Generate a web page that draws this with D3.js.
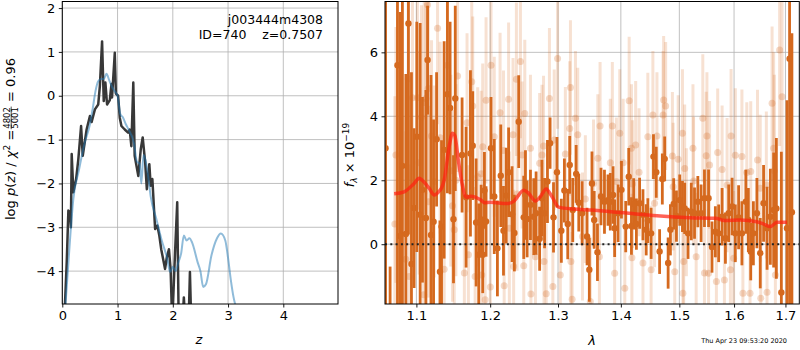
<!DOCTYPE html>
<html><head><meta charset="utf-8">
<script src="https://cdn.jsdelivr.net/npm/d3@7"></script>
<style>
body{margin:0;background:#fff}
svg{font-family:"DejaVu Sans",sans-serif}
</style></head><body>
<svg id="c" width="800" height="350"></svg>
<script>
// ---------- data ----------
const zTicks=[0,1,2,3,4];
const lnpTicks=[-4,-3,-2,-1,0,1,2];
const zBlue=[0.05,0.1,0.15,0.2,0.3,0.4,0.5,0.55,0.6,0.65,0.7,0.75,0.8,0.85,0.9,0.95,1.0,1.05,1.1,1.15,1.2,1.3,1.35,1.4,1.43,1.47,1.55,1.6,1.7,1.8,1.9,1.95,2.0,2.05,2.1,2.15,2.2,2.25,2.3,2.35,2.45,2.5,2.55,2.6,2.7,2.8,2.87,2.95,3.0,3.05,3.1,3.15];
const lnpBlue=[-4.9,-4.0,-3.1,-2.35,-1.7,-1.1,-0.65,-0.3,0.1,0.33,0.38,0.38,0.5,0.35,0.2,0.1,0.0,-0.42,-0.5,-0.65,-0.77,-1.1,-1.5,-1.55,-2.0,-1.35,-1.8,-2.3,-2.8,-3.3,-3.72,-4.02,-3.9,-4.0,-3.8,-3.6,-3.19,-3.3,-3.25,-3.35,-3.8,-4.0,-4.36,-4.3,-3.64,-3.25,-3.14,-3.3,-3.7,-4.2,-4.6,-4.85];
const zBlack=[0.03,0.05,0.08,0.11,0.14,0.155,0.17,0.2,0.25,0.29,0.34,0.37,0.44,0.5,0.53,0.59,0.65,0.68,0.72,0.75,0.78,0.81,0.86,0.89,0.9,0.95,0.97,1.01,1.04,1.07,1.13,1.19,1.22,1.25,1.285,1.31,1.376,1.42,1.455,1.5,1.53,1.575,1.6,1.63,1.68,1.72,1.756,1.79,1.86,1.89,1.93,1.96,1.99,2.03,2.08,2.11,2.16,2.2,2.24,2.28,2.31,2.34];
const lnpBlack=[-5.5,-4.7,-3.8,-2.62,-2.65,-3.0,-1.33,-2.2,-1.9,-1.45,-0.69,-1.37,-0.77,-0.46,-0.6,-0.31,-0.2,0.22,1.24,-0.12,0.3,-0.2,-0.1,0.27,-0.04,0.98,0.05,0.0,-0.5,-0.69,-0.77,-0.84,-0.77,-1.15,0.3,-1.37,-1.83,-1.22,-0.95,-1.52,-2.13,-1.56,-2.05,-1.9,-3.04,-2.96,-3.19,-3.5,-3.95,-3.7,-3.5,-3.95,-5.2,-3.9,-2.43,-5.5,-5.5,-4.6,-5.5,-5.5,-4.02,-5.5];

const lamTicks=[1.1,1.2,1.3,1.4,1.5,1.6,1.7];
const fluxTicks=[0,2,4,6];

const darkLam=[1.0607,1.0664,1.0757,1.0791,1.0820,1.0864,1.0897,1.0936,1.0970,1.1005,1.1049,1.1079,1.1124,1.1146,1.1191,1.1225,1.1265,1.1310,1.1331,1.1366,1.1410,1.1446,1.1492,1.1516,1.1609,1.1664,1.1724,1.1756,1.1803,1.1839,1.1873,1.1895,1.1919,1.1942,1.2012,1.2058,1.2103,1.2151,1.2190,1.2230,1.2264,1.2314,1.2348,1.2411,1.2485,1.2510,1.2535,1.2584,1.2633,1.2668,1.2721,1.2756,1.2795,1.2839,1.2879,1.2931,1.2984,1.3051,1.3098,1.3150,1.3181,1.3228,1.3281,1.3322,1.3375,1.3453,1.3489,1.3531,1.3567,1.3619,1.3676,1.3732,1.3789,1.3827,1.3872,1.3898,1.3955,1.4010,1.4081,1.4131,1.4176,1.4214,1.4259,1.4313,1.4370,1.4425,1.4453,1.4509,1.4549,1.4597,1.4655,1.4702,1.4743,1.4803,1.4843,1.4901,1.4949,1.5007,1.5055,1.5095,1.5155,1.5213,1.5271,1.5331,1.5390,1.5451,1.5526,1.5589,1.5651,1.5712,1.5776,1.5838,1.5899,1.5963,1.6024,1.6086,1.6149,1.6224,1.6272,1.6318,1.6369,1.6437,1.6502,1.6567,1.6635,1.6700,1.6765,1.6819,1.6918,1.7031,1.7083,1.7130];
const darkFlux=[3.0,-3.6,5.6,0.26,2.45,0.32,6.9,-0.62,1.13,3.36,0.92,1.7,0.82,5.76,0.29,0.7,3.28,-0.86,0.55,2.95,4.69,4.26,0.78,4.56,2.79,1.47,2.84,3.08,0.68,-0.33,0.76,-0.33,1.68,0.71,3.0,1.49,-0.13,2.14,0.42,1.52,2.25,0.94,0.35,3.83,0.84,1.54,0.79,1.23,0.86,0.97,0.17,1.44,0.97,1.96,3.16,0.84,2.25,0.42,1.68,0.63,2.48,1.07,2.2,1.3,0.97,0.24,-0.8,1.9,0.76,-0.25,1.49,1.33,1.38,1.33,1.54,0.5,0.97,1.7,0.55,2.11,0.57,1.26,0.63,1.28,0.92,0.45,0.74,0.34,2.74,2.25,-0.23,2.04,2.67,-0.59,0.45,1.26,0.88,1.38,1.18,1.12,0.34,1.02,0.97,1.33,0.97,1.44,1.44,-0.09,0.39,0.34,0.86,0.19,0.97,1.18,0.34,0.84,0.34,1.33,0.76,-0.23,0.34,0.97,-0.28,1.28,0.5,0.86,1.07,1.12,-1.51,0.5,5.8,1.0];
const darkErr=[12,2.9,8,7,5.2,5,6.6,6,2.5,3.6,6,2.9,4,1.7,5,3.2,2.1,1.6,2.7,3.4,3.1,2.7,2.0,2.9,1.8,2.2,2.6,1.7,2.0,1.6,1.1,1.2,1.2,1.1,1.6,1.8,1.5,1.6,1.4,1.5,1.4,1.5,1.2,1.45,1.3,1.4,1.2,1.1,1.2,1.3,1.0,1.2,1.1,1.3,0.8,1.1,1.1,1.0,1.0,1.1,0.9,1.0,0.9,0.9,1.0,0.9,1.0,1.0,0.9,0.9,0.9,1.0,0.8,0.9,0.9,0.9,0.9,0.9,0.8,0.9,0.9,0.8,0.8,0.8,0.8,0.8,0.7,0.8,0.7,0.8,0.7,0.8,0.7,0.8,0.8,0.8,0.8,0.8,0.8,0.8,0.8,0.9,0.8,0.8,0.9,0.9,0.9,0.8,0.8,0.9,0.9,0.8,0.9,0.9,0.9,1.0,1.0,1.0,1.0,0.9,1.0,1.1,1.1,1.2,1.3,1.5,1.8,2.2,4.4,4.0,8,5.6];

const lightLam=[1.0724,1.0737,1.0864,1.0894,1.0906,1.0949,1.1013,1.1036,1.1066,1.1095,1.1102,1.1124,1.1146,1.1155,1.1159,1.1198,1.1234,1.1278,1.1313,1.1366,1.1410,1.1456,1.1478,1.1502,1.1525,1.1547,1.1640,1.1677,1.1696,1.1742,1.1756,1.1789,1.1825,1.1873,1.1881,1.1895,1.1929,1.1942,1.2002,1.2012,1.2058,1.2141,1.2190,1.2200,1.2264,1.2274,1.2328,1.2337,1.2377,1.2387,1.2436,1.2461,1.2485,1.2500,1.2584,1.2591,1.2658,1.2721,1.2756,1.2780,1.2787,1.2820,1.2869,1.2921,1.2942,1.2993,1.3035,1.3113,1.3181,1.3192,1.3199,1.3218,1.3270,1.3306,1.3380,1.3426,1.3505,1.3556,1.3625,1.3650,1.3661,1.3827,1.3860,1.3898,1.3927,1.3982,1.4038,1.4065,1.4138,1.4176,1.4184,1.4193,1.4247,1.4304,1.4370,1.4453,1.4509,1.4539,1.4567,1.4609,1.4715,1.4725,1.4760,1.4878,1.4891,1.4919,1.4979,1.5055,1.5063,1.5077,1.5095,1.5125,1.5243,1.5254,1.5301,1.5421,1.5451,1.5483,1.5496,1.5526,1.5544,1.5670,1.5694,1.5776,1.5819,1.5869,1.5931,1.5944,1.5992,1.6024,1.6149,1.6168,1.6242,1.6304,1.6318,1.6449,1.6502,1.6512,1.6621,1.6635,1.6734,1.6765,1.6779,1.6799,1.6884,1.6932];
const lightFlux=[0.63,2.79,-0.47,5.17,-1.01,4.58,4.58,2.55,3.97,-1.58,4.43,4.56,7.49,4.87,1.33,3.38,1.96,6.75,3.33,-0.78,5.6,2.3,1.2,0.45,2.0,5.26,-0.9,3.8,-0.33,5.08,4.32,-1.01,2.11,2.2,-0.96,3.05,-1.74,4.5,-1.34,5.6,3.36,4.11,2.93,-1.3,4.53,0.5,3.42,-0.7,5.16,1.57,5.71,2.79,-0.67,4.09,3.0,-1.56,-0.39,2.53,2.79,3.07,-0.54,-1.55,4.56,-1.32,3.26,5.81,-0.96,2.82,3.62,4.9,-0.54,-1.72,3.94,3.42,0.24,1.41,-1.79,1.9,2.69,-0.39,3.7,2.55,3.7,-0.91,1.96,3.47,2.55,-1.38,4.49,3.0,-0.42,1.88,3.1,2.25,-0.59,3.36,-0.8,4.04,1.28,3.38,4.04,4.51,4.32,2.76,1.8,-0.86,2.66,3.47,-1.53,-0.54,2.37,1.0,3.0,1.98,-0.39,3.94,-0.9,2.77,3.38,-0.91,2.48,-1.17,2.87,2.34,-1.12,1.85,-0.8,3.38,-0.44,2.78,2.74,-1.53,2.24,-1.53,2.27,2.63,1.75,-1.69,1.85,-1.5,4.41,3.0,2.3,-0.96,6.07,4.61];
const lightErr=[4,4,4,4,3.5,3.5,3.5,3.5,3.5,3.5,3.5,3,3,3,3,3,3,3,3,3,3,3,3,3,3,3,2.8,2.8,2.8,2.8,2.8,2.8,2.8,2.6,2.6,2.6,2.6,2.6,2.6,2.6,2.5,2.5,2.5,2.5,2.4,2.4,2.4,2.4,2.4,2.4,2.4,2.3,2.3,2.3,2.3,2.3,2.2,2.2,2.2,2.2,2.2,2.2,2.2,2.2,2.2,2.2,2.1,2.1,2.1,2.1,2.1,2.1,2.1,2.1,2.0,2.0,2.0,2.0,2.0,2.0,2.0,2.0,2.0,2.0,2.0,2.0,2.0,2.0,2.0,2.0,2.0,2.0,2.0,2.0,2.0,2.0,2.0,2.0,2.0,2.0,2.0,2.0,2.0,2.0,2.0,2.0,2.0,2.0,2.0,2.0,2.0,2.0,2.0,2.0,2.0,2.0,2.0,2.0,2.0,2.0,2.0,2.0,2.0,2.0,2.0,2.1,2.1,2.1,2.1,2.1,2.1,2.2,2.2,2.2,2.2,2.2,2.3,2.3,2.3,2.4,2.4,3,3,3,3,4,4];

const modelLam=[1.0715,1.0842,1.0970,1.1036,1.1075,1.1167,1.1234,1.1300,1.1331,1.1366,1.1433,1.1478,1.1510,1.1557,1.1617,1.1664,1.1733,1.1780,1.1863,1.1919,1.2002,1.2240,1.2337,1.2485,1.2559,1.2658,1.2732,1.2820,1.2906,1.3009,1.3244,1.3505,1.4054,1.4609,1.5195,1.5660,1.5815,1.6117,1.6437,1.6567,1.6700,1.6833,1.7031];
const modelFlux=[1.58,1.64,1.9,2.06,2.0,1.75,1.54,1.66,1.76,2.0,3.05,3.47,3.4,2.63,1.8,1.47,1.5,1.48,1.39,1.3,1.31,1.27,1.34,1.69,1.59,1.35,1.49,1.73,1.49,1.16,1.10,1.07,0.98,0.89,0.83,0.81,0.74,0.76,0.70,0.63,0.55,0.69,0.69];

// ---------- drawing ----------
const svg=d3.select("#c");
const FS=13;
const defs=svg.append("defs");
const L={x0:62.3,x1:338,y0:1.5,y1:304};
const R={x0:385,x1:799.3,y0:1.5,y1:304};
defs.append("clipPath").attr("id","clipL").append("rect").attr("x",L.x0).attr("y",L.y0).attr("width",L.x1-L.x0).attr("height",L.y1-L.y0);
defs.append("clipPath").attr("id","clipR").append("rect").attr("x",R.x0).attr("y",R.y0).attr("width",R.x1-R.x0).attr("height",R.y1-R.y0);

const xL=d3.scaleLinear().domain([0,4.99]).range([L.x0,L.x1]);
const yL=d3.scaleLinear().domain([-4.75,2.15]).range([L.y1,L.y0]);
const xR=d3.scaleLog().domain([1.06,1.728]).range([R.x0,R.x1]);
const yR=d3.scaleLinear().domain([-1.87,7.59]).range([R.y1,R.y0]);

function grid(box,x,y,xt,yt){
  const g=svg.append("g").attr("stroke","#b0b0b0").attr("stroke-width",0.8);
  g.selectAll(".gx").data(xt).enter().append("line")
    .attr("x1",d=>x(d)).attr("x2",d=>x(d)).attr("y1",box.y0).attr("y2",box.y1);
  g.selectAll(".gy").data(yt).enter().append("line")
    .attr("y1",d=>y(d)).attr("y2",d=>y(d)).attr("x1",box.x0).attr("x2",box.x1);
}
function frame(box,x,y,xt,yt,xfmt,yfmt){
  const gx=svg.append("g").attr("transform",`translate(0,${box.y1})`)
    .call(d3.axisBottom(x).tickValues(xt).tickFormat(xfmt).tickSize(3.5).tickPadding(3.5));
  const gy=svg.append("g").attr("transform",`translate(${box.x0},0)`)
    .call(d3.axisLeft(y).tickValues(yt).tickFormat(yfmt).tickSize(3.5).tickPadding(3.5));
  [gx,gy].forEach(g=>{g.select(".domain").remove();
    g.selectAll("text").attr("font-family","DejaVu Sans").attr("font-size",FS).attr("fill","#000");
    g.selectAll("line").attr("stroke","#000").attr("stroke-width",0.9);});
  svg.append("rect").attr("x",box.x0).attr("y",box.y0).attr("width",box.x1-box.x0).attr("height",box.y1-box.y0)
    .attr("fill","none").attr("stroke","#000").attr("stroke-width",1);
}

// Left panel
grid(L,xL,yL,zTicks,lnpTicks);
const gL=svg.append("g").attr("clip-path","url(#clipL)");
gL.append("path").datum(zBlack.map((z,i)=>[z,lnpBlack[i]]))
  .attr("d",d3.line().x(d=>xL(d[0])).y(d=>yL(d[1])))
  .attr("fill","none").attr("stroke","#383838").attr("stroke-width",2.5).attr("stroke-linejoin","round");
gL.append("path").datum(zBlue.map((z,i)=>[z,lnpBlue[i]]))
  .attr("d",d3.line().curve(d3.curveMonotoneX).x(d=>xL(d[0])).y(d=>yL(d[1])))
  .attr("fill","none").attr("stroke","#1f77b4").attr("stroke-opacity",0.5).attr("stroke-width",2);
frame(L,xL,yL,zTicks,lnpTicks,d3.format("d"),d3.format("d"));

svg.append("text").attr("x",323).attr("y",24).attr("text-anchor","end").attr("font-size",12.5).text("j003444m4308");
svg.append("text").attr("x",323).attr("y",39).attr("text-anchor","end").attr("font-size",12.5)
  .attr("xml:space","preserve").style("white-space","pre").text("ID=740    z=0.7507");

// Right panel
grid(R,xR,yR,lamTicks,fluxTicks);
const gR=svg.append("g").attr("clip-path","url(#clipR)");
const orange="#d5691e";
const light=lightLam.map((l,i)=>({l,f:lightFlux[i],e:lightErr[i]}));
const dark=darkLam.map((l,i)=>({l,f:darkFlux[i],e:darkErr[i]}));
gR.selectAll(".lb").data(light).enter().append("line")
  .attr("x1",d=>xR(d.l)).attr("x2",d=>xR(d.l)).attr("y1",d=>yR(d.f-d.e)).attr("y2",d=>yR(d.f+d.e))
  .attr("stroke",orange).attr("stroke-opacity",0.2).attr("stroke-width",3);
gR.selectAll(".ld").data(light).enter().append("circle")
  .attr("cx",d=>xR(d.l)).attr("cy",d=>yR(d.f)).attr("r",3.5).attr("fill",orange).attr("fill-opacity",0.25);
gR.selectAll(".db").data(dark).enter().append("line")
  .attr("x1",d=>xR(d.l)).attr("x2",d=>xR(d.l)).attr("y1",d=>yR(d.f-d.e)).attr("y2",d=>yR(d.f+d.e))
  .attr("stroke",orange).attr("stroke-width",2.8);
gR.selectAll(".dd").data(dark).enter().append("circle")
  .attr("cx",d=>xR(d.l)).attr("cy",d=>yR(d.f)).attr("r",3.2).attr("fill",orange);
gR.append("line").attr("x1",R.x0).attr("x2",R.x1).attr("y1",yR(0)).attr("y2",yR(0))
  .attr("stroke","#222").attr("stroke-width",2).attr("stroke-dasharray","2,3.3");
gR.append("path").datum(modelLam.map((l,i)=>[l,modelFlux[i]]))
  .attr("d",d3.line().curve(d3.curveMonotoneX).x(d=>xR(d[0])).y(d=>yR(d[1])))
  .attr("fill","none").attr("stroke","#ff2010").attr("stroke-opacity",0.7).attr("stroke-width",3.5).attr("stroke-linejoin","round");
frame(R,xR,yR,lamTicks,fluxTicks,d3.format(".1f"),d3.format("d"));

// axis labels
svg.append("text").attr("x",199).attr("y",344).attr("text-anchor","middle").attr("font-size",FS).attr("font-style","italic").text("z");
svg.append("text").attr("x",592).attr("y",345).attr("text-anchor","middle").attr("font-size",FS).attr("font-style","italic").text("λ");

// left y label (with stacked fraction)
const gl=svg.append("g").attr("transform","translate(15,139) rotate(-90)");
const t1=gl.append("text").attr("font-size",FS);
t1.append("tspan").text("log ");
t1.append("tspan").attr("font-style","italic").text("p");
t1.append("tspan").text("(");
t1.append("tspan").attr("font-style","italic").text("z");
t1.append("tspan").text(") / ");
t1.append("tspan").attr("font-style","italic").text("χ");
t1.append("tspan").attr("font-size",9).attr("dy",-5).text("2");
t1.append("tspan").attr("dy",5).text(" = ");
const w1=t1.node().getComputedTextLength();
const num=gl.append("text").attr("font-size",8.5).attr("y",-5.5).text("4802");
const den=gl.append("text").attr("font-size",8.5).attr("y",3.2).text("5001");
const fw=Math.max(num.node().getComputedTextLength(),den.node().getComputedTextLength());
num.attr("x",w1+1); den.attr("x",w1+1);
gl.append("line").attr("x1",w1+0.5).attr("x2",w1+fw+1.5).attr("y1",-3.8).attr("y2",-3.8).attr("stroke","#000").attr("stroke-width",0.7);
const t3=gl.append("text").attr("font-size",FS).attr("x",w1+fw+2).attr("xml:space","preserve").style("white-space","pre").text(" = 0.96");
const total=w1+fw+2+t3.node().getComputedTextLength();
gl.selectAll("text").each(function(){const s=d3.select(this);s.attr("x",(+s.attr("x")||0)-total/2);});
gl.selectAll("line").each(function(){const s=d3.select(this);s.attr("x1",+s.attr("x1")-total/2).attr("x2",+s.attr("x2")-total/2);});

// right y label
const gr=svg.append("g").attr("transform","translate(354,155) rotate(-90)");
const t4=gr.append("text").attr("font-size",FS).attr("text-anchor","middle");
t4.append("tspan").attr("font-style","italic").text("f");
t4.append("tspan").attr("font-style","italic").attr("font-size",9).attr("dy",3).text("λ");
t4.append("tspan").attr("dy",-3).text(" × 10");
t4.append("tspan").attr("font-size",9).attr("dy",-5).text("−19");

// timestamp
svg.append("text").attr("x",787).attr("y",343).attr("text-anchor","end").attr("font-size",6.5).text("Thu Apr 23 09:53:20 2020");
</script>
</body></html>
